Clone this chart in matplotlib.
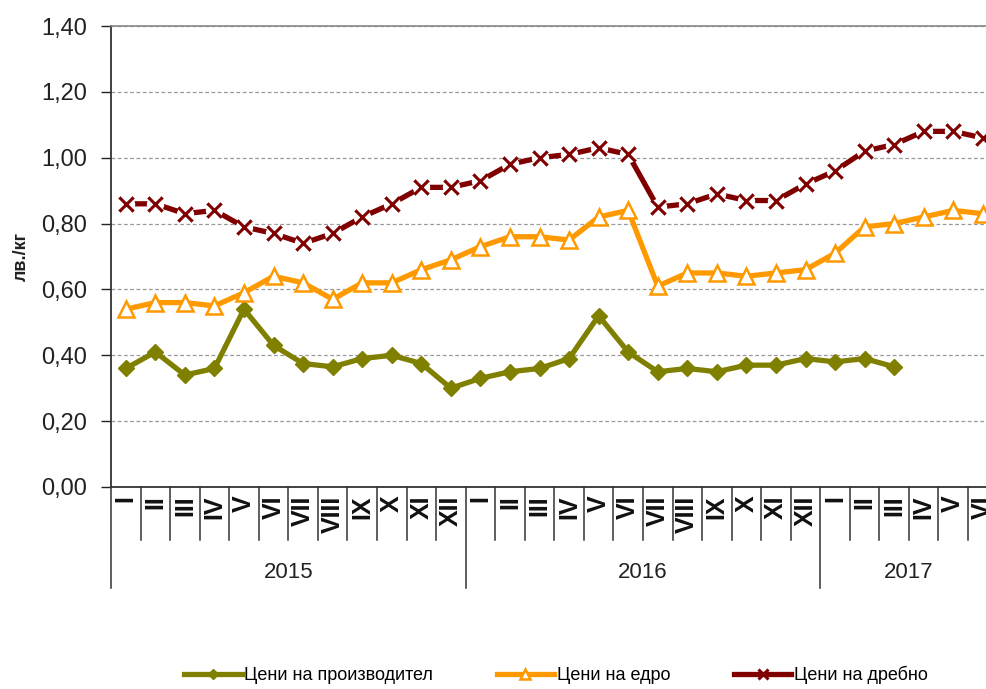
import matplotlib
matplotlib.use("Agg")
import matplotlib.pyplot as plt
import matplotlib.transforms as mtransforms
from matplotlib.ticker import FuncFormatter

plt.rcParams['font.family'] = ['Liberation Sans', 'DejaVu Sans']

years = ["2015", "2016", "2017"]
months_per_year = [12, 12, 6]
roman = ["I", "II", "III", "IV", "V", "VI", "VII", "VIII", "IX", "X", "XI", "XII"]

producer = [0.36, 0.41, 0.34, 0.36, 0.54, 0.43, 0.375, 0.365, 0.39, 0.40, 0.375, 0.30,
            0.33, 0.35, 0.36, 0.39, 0.52, 0.41, 0.35, 0.36, 0.35, 0.37, 0.37, 0.39,
            0.38, 0.39, 0.365]
wholesale = [0.54, 0.56, 0.56, 0.55, 0.59, 0.64, 0.62, 0.57, 0.62, 0.62, 0.66, 0.69,
             0.73, 0.76, 0.76, 0.75, 0.82, 0.84, 0.61, 0.65, 0.65, 0.64, 0.65, 0.66,
             0.71, 0.79, 0.80, 0.82, 0.84, 0.83]
retail = [0.86, 0.86, 0.83, 0.84, 0.79, 0.77, 0.74, 0.77, 0.82, 0.86, 0.91, 0.91,
          0.93, 0.98, 1.00, 1.01, 1.03, 1.01, 0.85, 0.86, 0.89, 0.87, 0.87, 0.92,
          0.96, 1.02, 1.04, 1.08, 1.08, 1.06]

labels = ["Цени на производител", "Цени на едро", "Цени на дребно"]
y_ticks = [0.0, 0.2, 0.4, 0.6, 0.8, 1.0, 1.2, 1.4]

cat_labels = []
for n in months_per_year:
    cat_labels += roman[:n]
n_cat = len(cat_labels)

W, H = 987, 689
fig = plt.figure(figsize=(W / 100, H / 100), dpi=100)
left, right, top, bottom = 111, 997.6, 26, 487
ax = fig.add_axes([left / W, 1 - bottom / H, (right - left) / W, (bottom - top) / H])

xs = list(range(n_cat))
ax.plot(xs[:len(producer)], producer, color="#808000", lw=3.8, marker="D", ms=8,
        mfc="#808000", mec="#808000", label=labels[0], zorder=3)
ax.plot(xs[:len(wholesale)], wholesale, color="#FF9900", lw=3.8, marker="^", ms=11,
        mfc="white", mec="#FF9900", mew=1.8, label=labels[1], zorder=3)
ax.plot(xs[:len(retail)], retail, color="#800000", lw=3.8, label=labels[2], zorder=3,
        marker="x", ms=10, mec="#800000", mew=2.2)
# white halo around the retail crosses
ax.plot(xs[:len(retail)], retail, linestyle="none", marker="o", ms=11.5,
        mfc="white", mec="white", zorder=3.5)
ax.plot(xs[:len(retail)], retail, linestyle="none", marker="x", ms=10,
        mec="#800000", mew=2.2, zorder=4)

ax.set_xlim(-0.5, n_cat - 0.5)
ax.set_ylim(0, 1.4)
ax.set_yticks(y_ticks)
ax.yaxis.set_major_formatter(FuncFormatter(lambda v, p: f"{v:.2f}".replace(".", ",")))
ax.tick_params(axis="y", direction="out", length=7, width=1, labelsize=17, pad=10, colors="#222222")

ax.grid(axis="y", color="#9a9a9a", linestyle=(0, (3, 2)), linewidth=0.9)
ax.set_axisbelow(True)

ax.set_xticks(xs)
ax.set_xticklabels(cat_labels, rotation=90, fontsize=18, fontweight="bold")
ax.tick_params(axis="x", length=0, pad=6, colors="#111111")

ax.spines["right"].set_visible(False)
ax.spines["top"].set_color("#888888")
ax.spines["top"].set_linewidth(1.2)
ax.spines["left"].set_color("#333333")
ax.spines["left"].set_linewidth(1.3)
ax.spines["bottom"].set_color("#333333")
ax.spines["bottom"].set_linewidth(1.3)

trans = mtransforms.blended_transform_factory(ax.transData, ax.transAxes)
ah = bottom - top
y_month = -(540 - bottom) / ah
y_year = -(588 - bottom) / ah
y_ytext = -(572 - bottom) / ah

boundaries = [i - 0.5 for i in range(n_cat + 1)]
year_bounds = [-0.5]
acc = -0.5
for n in months_per_year:
    acc += n
    year_bounds.append(acc)
for b in boundaries:
    yb = y_year if b in year_bounds else y_month
    ax.plot([b, b], [0, yb], transform=trans, color="#333333", lw=1.1, clip_on=False)

start = -0.5
for yr, n in zip(years, months_per_year):
    ax.text(start + n / 2, y_ytext, yr, transform=trans, ha="center", va="center",
            fontsize=16, color="#222222")
    start += n

ax.set_ylabel("лв./кг", fontsize=13, fontweight="bold", color="#222222")
ax.yaxis.set_label_coords(-(111 - 30) / (right - left), 0.5)

fig.legend(loc="center", bbox_to_anchor=(556 / W, 1 - 675 / H), ncol=3, frameon=False,
           fontsize=13, handlelength=3.2, columnspacing=3.5, handletextpad=0.15,
           markerscale=0.7)

fig.savefig("out.png", dpi=100)
